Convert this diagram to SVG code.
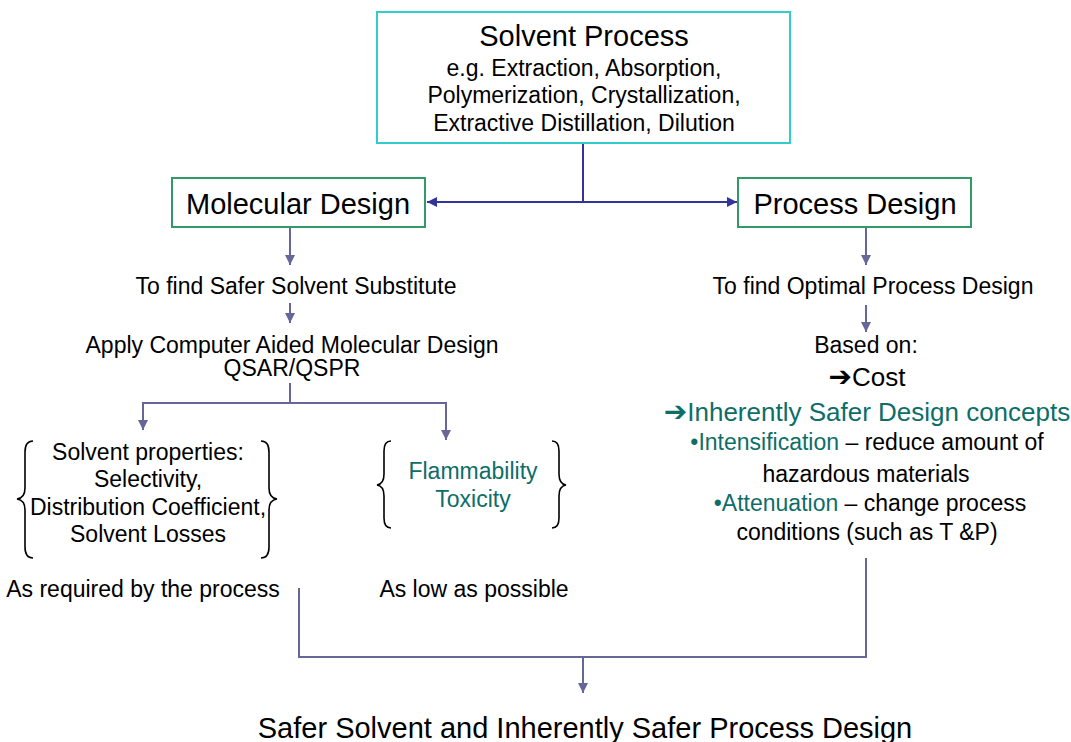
<svg xmlns="http://www.w3.org/2000/svg" width="1071" height="742" viewBox="0 0 1071 742">
<defs>
<style>
text{font-family:"Liberation Sans",Arial,sans-serif;fill:#000;text-anchor:middle}
.t22{font-size:23px}
.t29{font-size:29px}
.t25{font-size:26px}
.arr{font-family:"DejaVu Sans",sans-serif;font-size:28px;font-weight:bold}
.teal{fill:#0d6e68}
.box{fill:#fff;stroke-width:2}
.c1{fill:none;stroke:#333399;stroke-width:2}
.c2{fill:none;stroke:#666699;stroke-width:2}
.brace{fill:none;stroke:#000;stroke-width:1.6}
</style>
<marker id="ah1" markerUnits="userSpaceOnUse" markerWidth="12" markerHeight="10" refX="10" refY="5" orient="auto"><path d="M0,0 L10,5 L0,10 Z" fill="#333399"/></marker>
<marker id="ah2" markerUnits="userSpaceOnUse" markerWidth="12" markerHeight="10" refX="10" refY="5" orient="auto"><path d="M0,0 L10,5 L0,10 Z" fill="#666699"/></marker>
</defs>
<rect width="1071" height="742" fill="#fff"/>
<g id="connectors">
<path class="c1" d="M583,143 V202"/>
<path class="c1" d="M583,202 H427" marker-end="url(#ah1)"/>
<path class="c1" d="M583,202 H737" marker-end="url(#ah1)"/>
<path class="c2" d="M290,227 V265" marker-end="url(#ah2)"/>
<path class="c2" d="M290,303 V323" marker-end="url(#ah2)"/>
<path class="c2" d="M290,383 V403 H143 V430" marker-end="url(#ah2)"/>
<path class="c2" d="M290,403 H446 V440" marker-end="url(#ah2)"/>
<path class="c2" d="M866,227 V265" marker-end="url(#ah2)"/>
<path class="c2" d="M866,305 V332" marker-end="url(#ah2)"/>
<path class="c2" d="M299,588 V657 H866 V558"/>
<path class="c2" d="M583,657 V693" marker-end="url(#ah2)"/>
</g>
<g id="solvent-process">
<rect class="box" x="377" y="12" width="413" height="131" stroke="#33cccc"/>
<text class="t29" x="584" y="46">Solvent Process</text>
<text class="t22" x="584" y="76">e.g. Extraction, Absorption,</text>
<text class="t22" x="584" y="103">Polymerization, Crystallization,</text>
<text class="t22" x="584" y="131">Extractive Distillation, Dilution</text>
</g>
<g id="molecular-design">
<rect class="box" x="172" y="178" width="253" height="49" stroke="#339966"/>
<text class="t29" x="298" y="214">Molecular Design</text>
</g>
<g id="process-design">
<rect class="box" x="738" y="178" width="233" height="49" stroke="#339966"/>
<text class="t29" x="855" y="214">Process Design</text>
</g>
<g id="safer-substitute">
<text class="t22" x="296" y="294">To find Safer Solvent Substitute</text>
</g>
<g id="camd">
<text class="t22" x="292" y="353">Apply Computer Aided Molecular Design</text>
<text class="t22" x="292" y="376">QSAR/QSPR</text>
</g>
<g id="solvent-properties">
<path class="brace" d="M33,441 Q25,441 25,452 V488 Q25,498 17,499 Q25,500 25,510 V547 Q25,558 33,558"/>
<path class="brace" d="M261,441 Q269,441 269,452 V488 Q269,498 277,499 Q269,500 269,510 V547 Q269,558 261,558"/>
<text class="t22" x="148" y="460">Solvent properties:</text>
<text class="t22" x="148" y="487">Selectivity,</text>
<text class="t22" x="148" y="515">Distribution Coefficient,</text>
<text class="t22" x="148" y="542">Solvent Losses</text>
</g>
<g id="hazards">
<path class="brace" d="M391,441 Q384,441 384,451 V474 Q384,484 377,485 Q384,486 384,496 V518 Q384,528 391,528"/>
<path class="brace" d="M552,441 Q559,441 559,451 V474 Q559,484 566,485 Q559,486 559,496 V518 Q559,528 552,528"/>
<text class="t22 teal" x="473" y="479">Flammability</text>
<text class="t22 teal" x="473" y="507">Toxicity</text>
</g>
<g id="requirements">
<text class="t22" x="143" y="597">As required by the process</text>
<text class="t22" x="474" y="597">As low as possible</text>
</g>
<g id="optimal-process">
<text class="t22" x="873" y="294">To find Optimal Process Design</text>
<text class="t22" x="866" y="353">Based on:</text>
<text class="t25" x="867" y="386"><tspan class="arr" fill="#000">➔</tspan>Cost</text>
<text class="t25 teal" x="867" y="421"><tspan class="arr">➔</tspan>Inherently Safer Design concepts</text>
<text class="t22" x="867" y="450"><tspan class="teal">•Intensification</tspan> – reduce amount of</text>
<text class="t22" x="866" y="482">hazardous materials</text>
<text class="t22" x="870" y="511"><tspan class="teal">•Attenuation</tspan> – change process</text>
<text class="t22" x="867" y="540">conditions (such as T &amp;P)</text>
</g>
<g id="result">
<text class="t29" x="585" y="738">Safer Solvent and Inherently Safer Process Design</text>
</g>
</svg>
